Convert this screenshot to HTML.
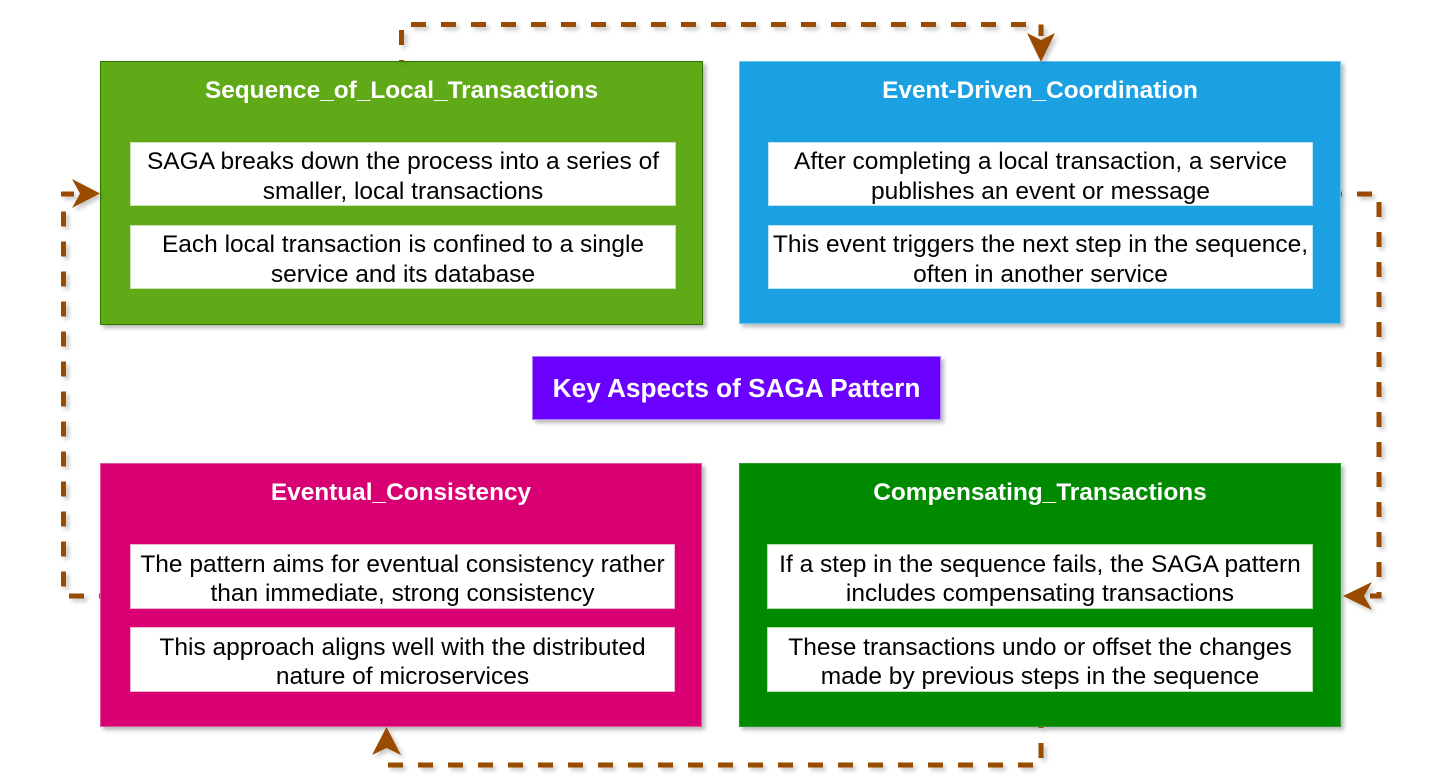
<!DOCTYPE html>
<html>
<head>
<meta charset="utf-8">
<style>
  html, body { margin:0; padding:0; }
  body { width:1452px; height:780px; background:#ffffff; position:relative; overflow:hidden;
         font-family:"Liberation Sans", Arial, sans-serif; }
  .box { position:absolute; box-sizing:border-box; box-shadow:3px 3px 4px rgba(0,0,0,0.28); }
  .title { position:absolute; left:0; right:0; text-align:center; color:#fff; font-weight:bold;
           font-size:24.4px; line-height:28px; }
  .inner { position:absolute; box-sizing:border-box; background:#fff; display:flex; align-items:center;
           justify-content:center; text-align:center; color:#000; font-size:24.5px; line-height:29.5px;
           padding-top:5px; white-space:nowrap; }
  .center { position:absolute; left:532px; top:356px; width:409px; height:64px; box-sizing:border-box;
            background:#6a00ff; border:1px solid #b07fff; color:#fff; font-weight:bold; font-size:26.2px;
            display:flex; align-items:center; justify-content:center; box-shadow:3px 3px 4px rgba(0,0,0,0.28); }
  svg { position:absolute; left:0; top:0; }
</style>
</head>
<body>

<!-- Top-left green -->
<div class="box" style="left:100px; top:61px; width:603px; height:264px; background:#60a917; border:1px solid #2d7600;">
  <div class="title" style="top:15px;">Sequence_of_Local_Transactions</div>
  <div class="inner" style="left:29px; top:80px; width:546px; height:64px; border:1px solid #c9e3b0;">SAGA breaks down the process into a series of<br>smaller, local transactions</div>
  <div class="inner" style="left:29px; top:163px; width:546px; height:64px; border:1px solid #c9e3b0;">Each local transaction is confined to a single<br>service and its database</div>
</div>

<!-- Top-right blue -->
<div class="box" style="left:739px; top:61px; width:602px; height:263px; background:#1ba1e2; border:1px solid #6ec4ef;">
  <div class="title" style="top:15px;">Event-Driven_Coordination</div>
  <div class="inner" style="left:28px; top:80px; width:545px; height:64px; border:1px solid #bfe3f6;">After completing a local transaction, a service<br>publishes an event or message</div>
  <div class="inner" style="left:28px; top:163px; width:545px; height:64px; border:1px solid #bfe3f6;">This event triggers the next step in the sequence,<br>often in another service</div>
</div>

<!-- Bottom-left pink -->
<div class="box" style="left:100px; top:463px; width:602px; height:264px; background:#d80073; border:1px solid #e0559a;">
  <div class="title" style="top:15px;">Eventual_Consistency</div>
  <div class="inner" style="left:29px; top:80px; width:545px; height:65px; border:1px solid #f0b3d2;">The pattern aims for eventual consistency rather<br>than immediate, strong consistency</div>
  <div class="inner" style="left:29px; top:163px; width:545px; height:65px; border:1px solid #f0b3d2;">This approach aligns well with the distributed<br>nature of microservices</div>
</div>

<!-- Bottom-right green -->
<div class="box" style="left:739px; top:463px; width:602px; height:264px; background:#008a00; border:1px solid #2a9a2a;">
  <div class="title" style="top:15px;">Compensating_Transactions</div>
  <div class="inner" style="left:27px; top:80px; width:546px; height:65px; border:1px solid #b3dcb3;">If a step in the sequence fails, the SAGA pattern<br>includes compensating transactions</div>
  <div class="inner" style="left:27px; top:163px; width:546px; height:65px; border:1px solid #b3dcb3;">These transactions undo or offset the changes<br>made by previous steps in the sequence</div>
</div>

<div class="center">Key Aspects of SAGA Pattern</div>

<svg width="1452" height="780" viewBox="0 0 1452 780">
  <defs>
    <filter id="sh" x="-20%" y="-20%" width="140%" height="140%">
      <feDropShadow dx="3" dy="3" stdDeviation="2" flood-color="#000" flood-opacity="0.22"/>
    </filter>
  </defs>
  <g filter="url(#sh)" fill="none" stroke="#994c00" stroke-width="5" stroke-dasharray="15 15" stroke-dashoffset="14">
    <!-- top: green -> blue -->
    <path d="M401.5 61 L401.5 24.5 L1041 24.5 L1041 36"/>
    <!-- right: blue -> green bottom -->
    <path d="M1341 194 L1379 194 L1379 596 L1370 596"/>
    <!-- bottom: green bottom -> pink -->
    <path d="M1041 727 L1041 765 L386.5 765 L386.5 754"/>
    <!-- left: pink -> green top -->
    <path d="M100 596 L63.5 596 L63.5 194 L74 194"/>
  </g>
  <g filter="url(#sh)" fill="#994c00">
    <!-- down arrow into blue top -->
    <path d="M1041 62 L1027 33 L1041 40 L1055 33 Z"/>
    <!-- left arrow into green bottom right -->
    <path d="M1343 596 L1372 582 L1364 596 L1372 610 Z"/>
    <!-- up arrow into pink bottom -->
    <path d="M386.5 727 L372 755 L386.5 748 L401 755 Z"/>
    <!-- right arrow into green top left -->
    <path d="M100 193.5 L72 179 L80 193.5 L72 208 Z"/>
  </g>
</svg>

</body>
</html>
